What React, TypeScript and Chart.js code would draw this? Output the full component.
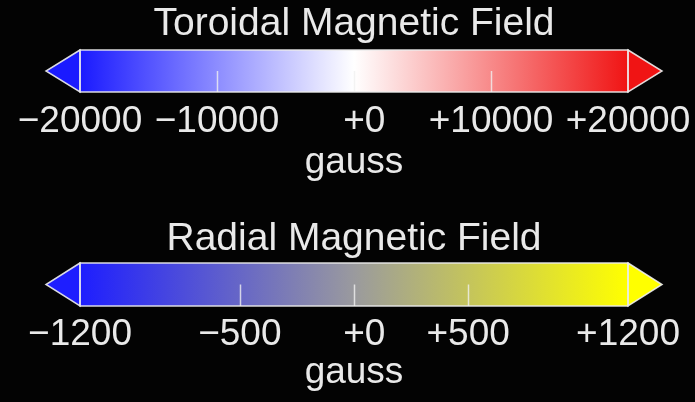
import React, { useEffect, useRef } from "react";
import { Chart, registerables } from "chart.js";

Chart.register(...registerables);

// ---- data ----
const toroidalTitle = "Toroidal Magnetic Field";
const toroidalRange = [-20000, 20000];
const toroidalTicks = [-20000, -10000, 0, 10000, 20000];
const toroidalColors = ["#1a1aff", "#ffffff", "#f01414"];

const radialTitle = "Radial Magnetic Field";
const radialRange = [-1200, 1200];
const radialTicks = [-1200, -500, 0, 500, 1200];
const radialColors = ["#1e1eff", "#9a9a9e", "#ffff00"];

const unitLabel = "gauss";

// ---- styles ----
const FONT = "'Liberation Sans', Arial, sans-serif";
const TEXT = "#e9e9e9";
const OUTLINE = "rgba(235,235,235,0.92)";

function fmt(v: number): string {
  if (v > 0) return "+" + v;
  if (v < 0) return "\u2212" + Math.abs(v);
  return "\u00a0\u00a0+0";
}

const colorbarPlugin = {
  id: "colorbarDecor",
  afterDatasetsDraw(chart: any, _args: any, opts: any) {
    const { ctx } = chart;
    const xs = chart.scales.x;
    const el = chart.getDatasetMeta(0).data[0];
    if (!el) return;
    const p = el.getProps(["y", "height"], true);
    const top = Math.round(p.y - p.height / 2);
    const bottom = Math.round(p.y + p.height / 2);
    const mid = (top + bottom) / 2;
    const left = Math.round(xs.getPixelForValue(opts.range[0]));
    const right = Math.round(xs.getPixelForValue(opts.range[1]));
    const L = opts.arrowLength;
    ctx.save();
    ctx.lineWidth = 1.5;
    ctx.strokeStyle = OUTLINE;
    ctx.beginPath();
    ctx.moveTo(left, top);
    ctx.lineTo(left - L, mid);
    ctx.lineTo(left, bottom);
    ctx.closePath();
    ctx.fillStyle = opts.colors[0];
    ctx.fill();
    ctx.stroke();
    ctx.beginPath();
    ctx.moveTo(right, top);
    ctx.lineTo(right + L, mid);
    ctx.lineTo(right, bottom);
    ctx.closePath();
    ctx.fillStyle = opts.colors[opts.colors.length - 1];
    ctx.fill();
    ctx.stroke();
    ctx.strokeRect(left, top, right - left, bottom - top);
    ctx.strokeStyle = "rgba(240,240,240,0.8)";
    opts.ticks.slice(1, -1).forEach((v: number) => {
      const x = Math.round(xs.getPixelForValue(v)) + 0.5;
      ctx.beginPath();
      ctx.moveTo(x, mid);
      ctx.lineTo(x, bottom);
      ctx.stroke();
    });
    ctx.restore();
  },
};

type Lay = {
  titleTop: number;
  titleBottom: number;
  tickPad: number;
  axisHeight: number;
  padBottom: number;
};

function ColorBar(props: {
  title: string;
  range: number[];
  ticks: number[];
  colors: string[];
  lay: Lay;
}) {
  const ref = useRef<HTMLCanvasElement>(null);
  useEffect(() => {
    const { title, range, ticks, colors, lay } = props;
    const canvas = ref.current;
    if (!canvas) return;
    const gradient = (c: any) => {
      const chart = c.chart;
      const xs = chart.scales && chart.scales.x;
      if (!chart.chartArea || !xs) return colors[0];
      const x0 = xs.getPixelForValue(range[0]);
      const x1 = xs.getPixelForValue(range[1]);
      const g = chart.ctx.createLinearGradient(x0, 0, x1, 0);
      colors.forEach((col, i) => g.addColorStop(i / (colors.length - 1), col));
      return g;
    };
    const chart = new Chart(canvas, {
      type: "bar",
      data: {
        labels: [title],
        datasets: [
          {
            data: [range as any],
            backgroundColor: gradient as any,
            borderWidth: 0,
            barPercentage: 1,
            categoryPercentage: 1,
          },
        ],
      },
      options: {
        indexAxis: "y",
        animation: false,
        responsive: false,
        events: [],
        layout: { padding: { left: 80, right: 67, top: 0, bottom: lay.padBottom } },
        plugins: {
          legend: { display: false },
          tooltip: { enabled: false },
          title: {
            display: true,
            text: title,
            color: TEXT,
            font: { family: FONT, size: 39, weight: "normal", lineHeight: 1 },
            padding: { top: lay.titleTop, bottom: lay.titleBottom },
          },
          colorbarDecor: { range, ticks, colors, arrowLength: 34 },
        } as any,
        scales: {
          y: { display: false },
          x: {
            type: "linear",
            min: range[0],
            max: range[1],
            grid: { display: false, drawTicks: false },
            border: { display: false },
            afterBuildTicks: (s: any) => {
              s.ticks = ticks.map((v) => ({ value: v }));
            },
            afterFit: (s: any) => {
              s.paddingLeft = 0;
              s.paddingRight = 0;
              s.height = lay.axisHeight;
            },
            ticks: {
              autoSkip: false,
              maxRotation: 0,
              minRotation: 0,
              padding: lay.tickPad,
              color: TEXT,
              font: { family: FONT, size: 37, lineHeight: 1 },
              callback: (v: any) => fmt(Number(v)),
            },
            title: {
              display: true,
              text: unitLabel,
              color: TEXT,
              font: { family: FONT, size: 37, lineHeight: 1 },
              padding: { top: 0, bottom: 0 },
            },
          },
        },
      },
      plugins: [colorbarPlugin as any],
    });
    return () => chart.destroy();
  }, []);
  return <canvas ref={ref} width={695} height={201} style={{ display: "block" }} />;
}

export default function App() {
  return (
    <div
      style={{
        position: "absolute",
        left: 0,
        top: 0,
        width: 695,
        height: 402,
        background: "#030303",
        overflow: "hidden",
      }}
    >
      <ColorBar
        title={toroidalTitle}
        range={toroidalRange}
        ticks={toroidalTicks}
        colors={toroidalColors}
        lay={{ titleTop: 4.5, titleBottom: 6.5, tickPad: 11, axisHeight: 89.5, padBottom: 19.5 }}
      />
      <ColorBar
        title={radialTitle}
        range={radialRange}
        ticks={radialTicks}
        colors={radialColors}
        lay={{ titleTop: 18.5, titleBottom: 4.5, tickPad: 10.5, axisHeight: 85.5, padBottom: 10.5 }}
      />
    </div>
  );
}
